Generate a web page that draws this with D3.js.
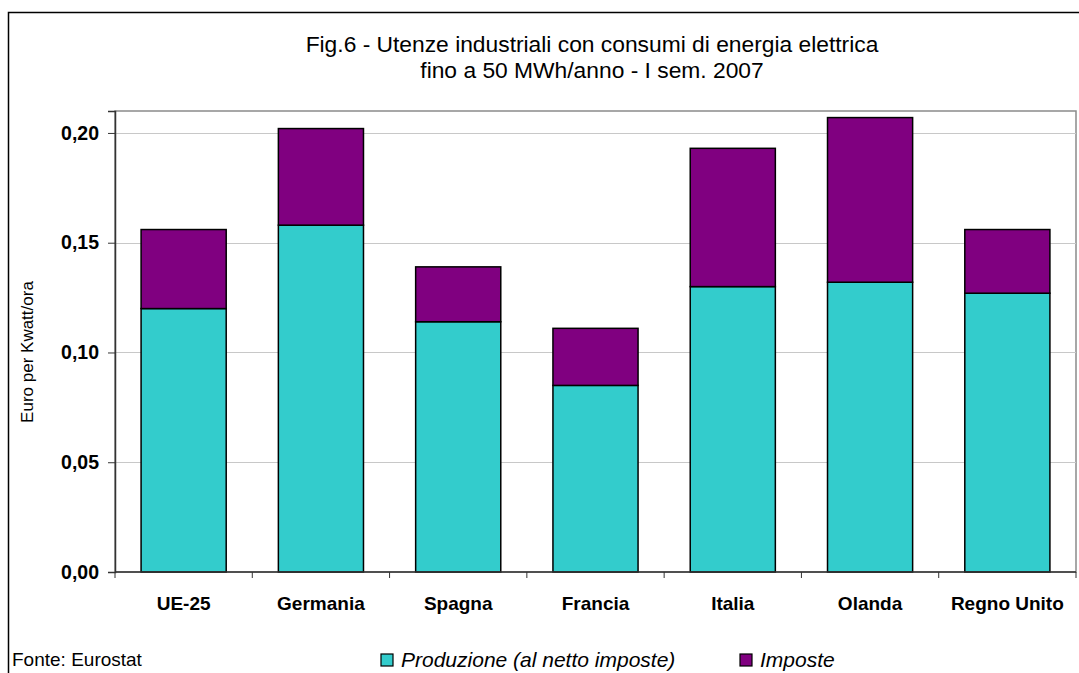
<!DOCTYPE html>
<html>
<head>
<meta charset="utf-8">
<script src="https://cdn.jsdelivr.net/npm/d3@7"></script>
<style>
  html, body { margin: 0; padding: 0; background: #fff; }
  svg { display: block; font-family: "Liberation Sans", Arial, sans-serif; }
</style>
</head>
<body>
<svg id="chart" width="1079" height="673"></svg>
<script>
// Prezzi dell'energia elettrica per utenze industriali (euro per kWh)
const categories = ["UE-25", "Germania", "Spagna", "Francia", "Italia", "Olanda", "Regno Unito"];
const produzione = [0.120, 0.158, 0.114, 0.085, 0.130, 0.132, 0.127];
const imposte    = [0.036, 0.044, 0.025, 0.026, 0.063, 0.075, 0.029];
const seriesNames = ["Produzione (al netto imposte)", "Imposte"];
const seriesColors = ["#33CCCC", "#800080"];
const yTicks = [0, 0.05, 0.10, 0.15, 0.20];
const titleLines = ["Fig.6 - Utenze industriali con consumi di energia elettrica",
                    "fino a 50 MWh/anno - I sem. 2007"];

const svg = d3.select("#chart");
const plot = { left: 115, right: 1076, top: 111, bottom: 572 };

// outer frame
svg.append("rect")
  .attr("x", 8.5).attr("y", 12.5)
  .attr("width", 1100).attr("height", 700)
  .attr("fill", "#fff").attr("stroke", "#000").attr("stroke-width", 1.5);

const x = d3.scaleBand()
  .domain(categories)
  .range([plot.left, plot.right])
  .paddingInner(0.38)
  .paddingOuter(0.19);

const y = d3.scaleLinear()
  .domain([0, 0.21])
  .range([plot.bottom, plot.top]);

// plot area border
svg.append("rect")
  .attr("x", plot.left).attr("y", plot.top)
  .attr("width", plot.right - plot.left).attr("height", plot.bottom - plot.top)
  .attr("fill", "#fff").attr("stroke", "#8a8a8a").attr("stroke-width", 1.5);

// horizontal gridlines
svg.append("g")
  .selectAll("line")
  .data(yTicks.filter(d => d > 0))
  .join("line")
  .attr("x1", plot.left).attr("x2", plot.right)
  .attr("y1", d => Math.round(y(d)) + 0.5).attr("y2", d => Math.round(y(d)) + 0.5)
  .attr("stroke", "#c8c8c8").attr("stroke-width", 1);

// stacked bars
const stacked = d3.stack().keys([0, 1])(
  categories.map((c, i) => ({ cat: c, 0: produzione[i], 1: imposte[i] }))
);

svg.append("g")
  .selectAll("g")
  .data(stacked)
  .join("g")
  .attr("fill", (d, i) => seriesColors[i])
  .selectAll("rect")
  .data(d => d)
  .join("rect")
  .attr("x", d => x(d.data.cat))
  .attr("width", x.bandwidth())
  .attr("y", d => y(d[1]))
  .attr("height", d => y(d[0]) - y(d[1]))
  .attr("stroke", "#000")
  .attr("stroke-width", 1.5);

// y axis
const yAxis = d3.axisLeft(y)
  .tickValues(yTicks)
  .tickSize(7)
  .tickPadding(9)
  .tickFormat(d => d3.format(".2f")(d).replace(".", ","));

const gy = svg.append("g")
  .attr("transform", `translate(${plot.left},0)`)
  .call(yAxis);
gy.select(".domain").attr("stroke", "#333").attr("stroke-width", 1.5);
gy.selectAll(".tick line").attr("stroke", "#333");
gy.selectAll(".tick text")
  .attr("font-size", 19.5).attr("font-weight", "bold").attr("fill", "#000")
  .attr("font-family", "Liberation Sans, Arial, sans-serif");

// x axis: ticks between categories
const gx = svg.append("g")
  .attr("transform", `translate(0,${plot.bottom})`);
gx.append("line")
  .attr("x1", plot.left).attr("x2", plot.right)
  .attr("y1", 0).attr("y2", 0)
  .attr("stroke", "#333").attr("stroke-width", 1.5);
gx.selectAll("line.tk")
  .data(d3.range(categories.length + 1))
  .join("line")
  .attr("class", "tk")
  .attr("x1", i => plot.left + i * x.step())
  .attr("x2", i => plot.left + i * x.step())
  .attr("y1", 0).attr("y2", 6)
  .attr("stroke", "#333").attr("stroke-width", 1);
gx.selectAll("text")
  .data(categories)
  .join("text")
  .attr("x", d => x(d) + x.bandwidth() / 2)
  .attr("y", 38)
  .attr("text-anchor", "middle")
  .attr("font-size", 19).attr("font-weight", "bold")
  .text(d => d);

// title
svg.append("g")
  .selectAll("text")
  .data(titleLines)
  .join("text")
  .attr("x", 592)
  .attr("y", (d, i) => 51.5 + i * 26.5)
  .attr("text-anchor", "middle")
  .attr("font-size", 22.8)
  .text(d => d);

// y axis label
svg.append("text")
  .attr("transform", "translate(33,352) rotate(-90)")
  .attr("text-anchor", "middle")
  .attr("font-size", 17)
  .text("Euro per Kwatt/ora");

// source note
svg.append("text")
  .attr("x", 12).attr("y", 666)
  .attr("font-size", 19)
  .text("Fonte: Eurostat");

// legend
const legendX = [381, 740];
const lg = svg.append("g")
  .selectAll("g")
  .data(seriesNames)
  .join("g")
  .attr("transform", (d, i) => `translate(${legendX[i]},654)`);
lg.append("rect")
  .attr("width", 12).attr("height", 12)
  .attr("fill", (d, i) => seriesColors[i])
  .attr("stroke", "#000").attr("stroke-width", 1.2);
lg.append("text")
  .attr("x", 20).attr("y", 12.5)
  .attr("font-size", 21).attr("font-style", "italic")
  .text(d => d);
</script>
</body>
</html>
